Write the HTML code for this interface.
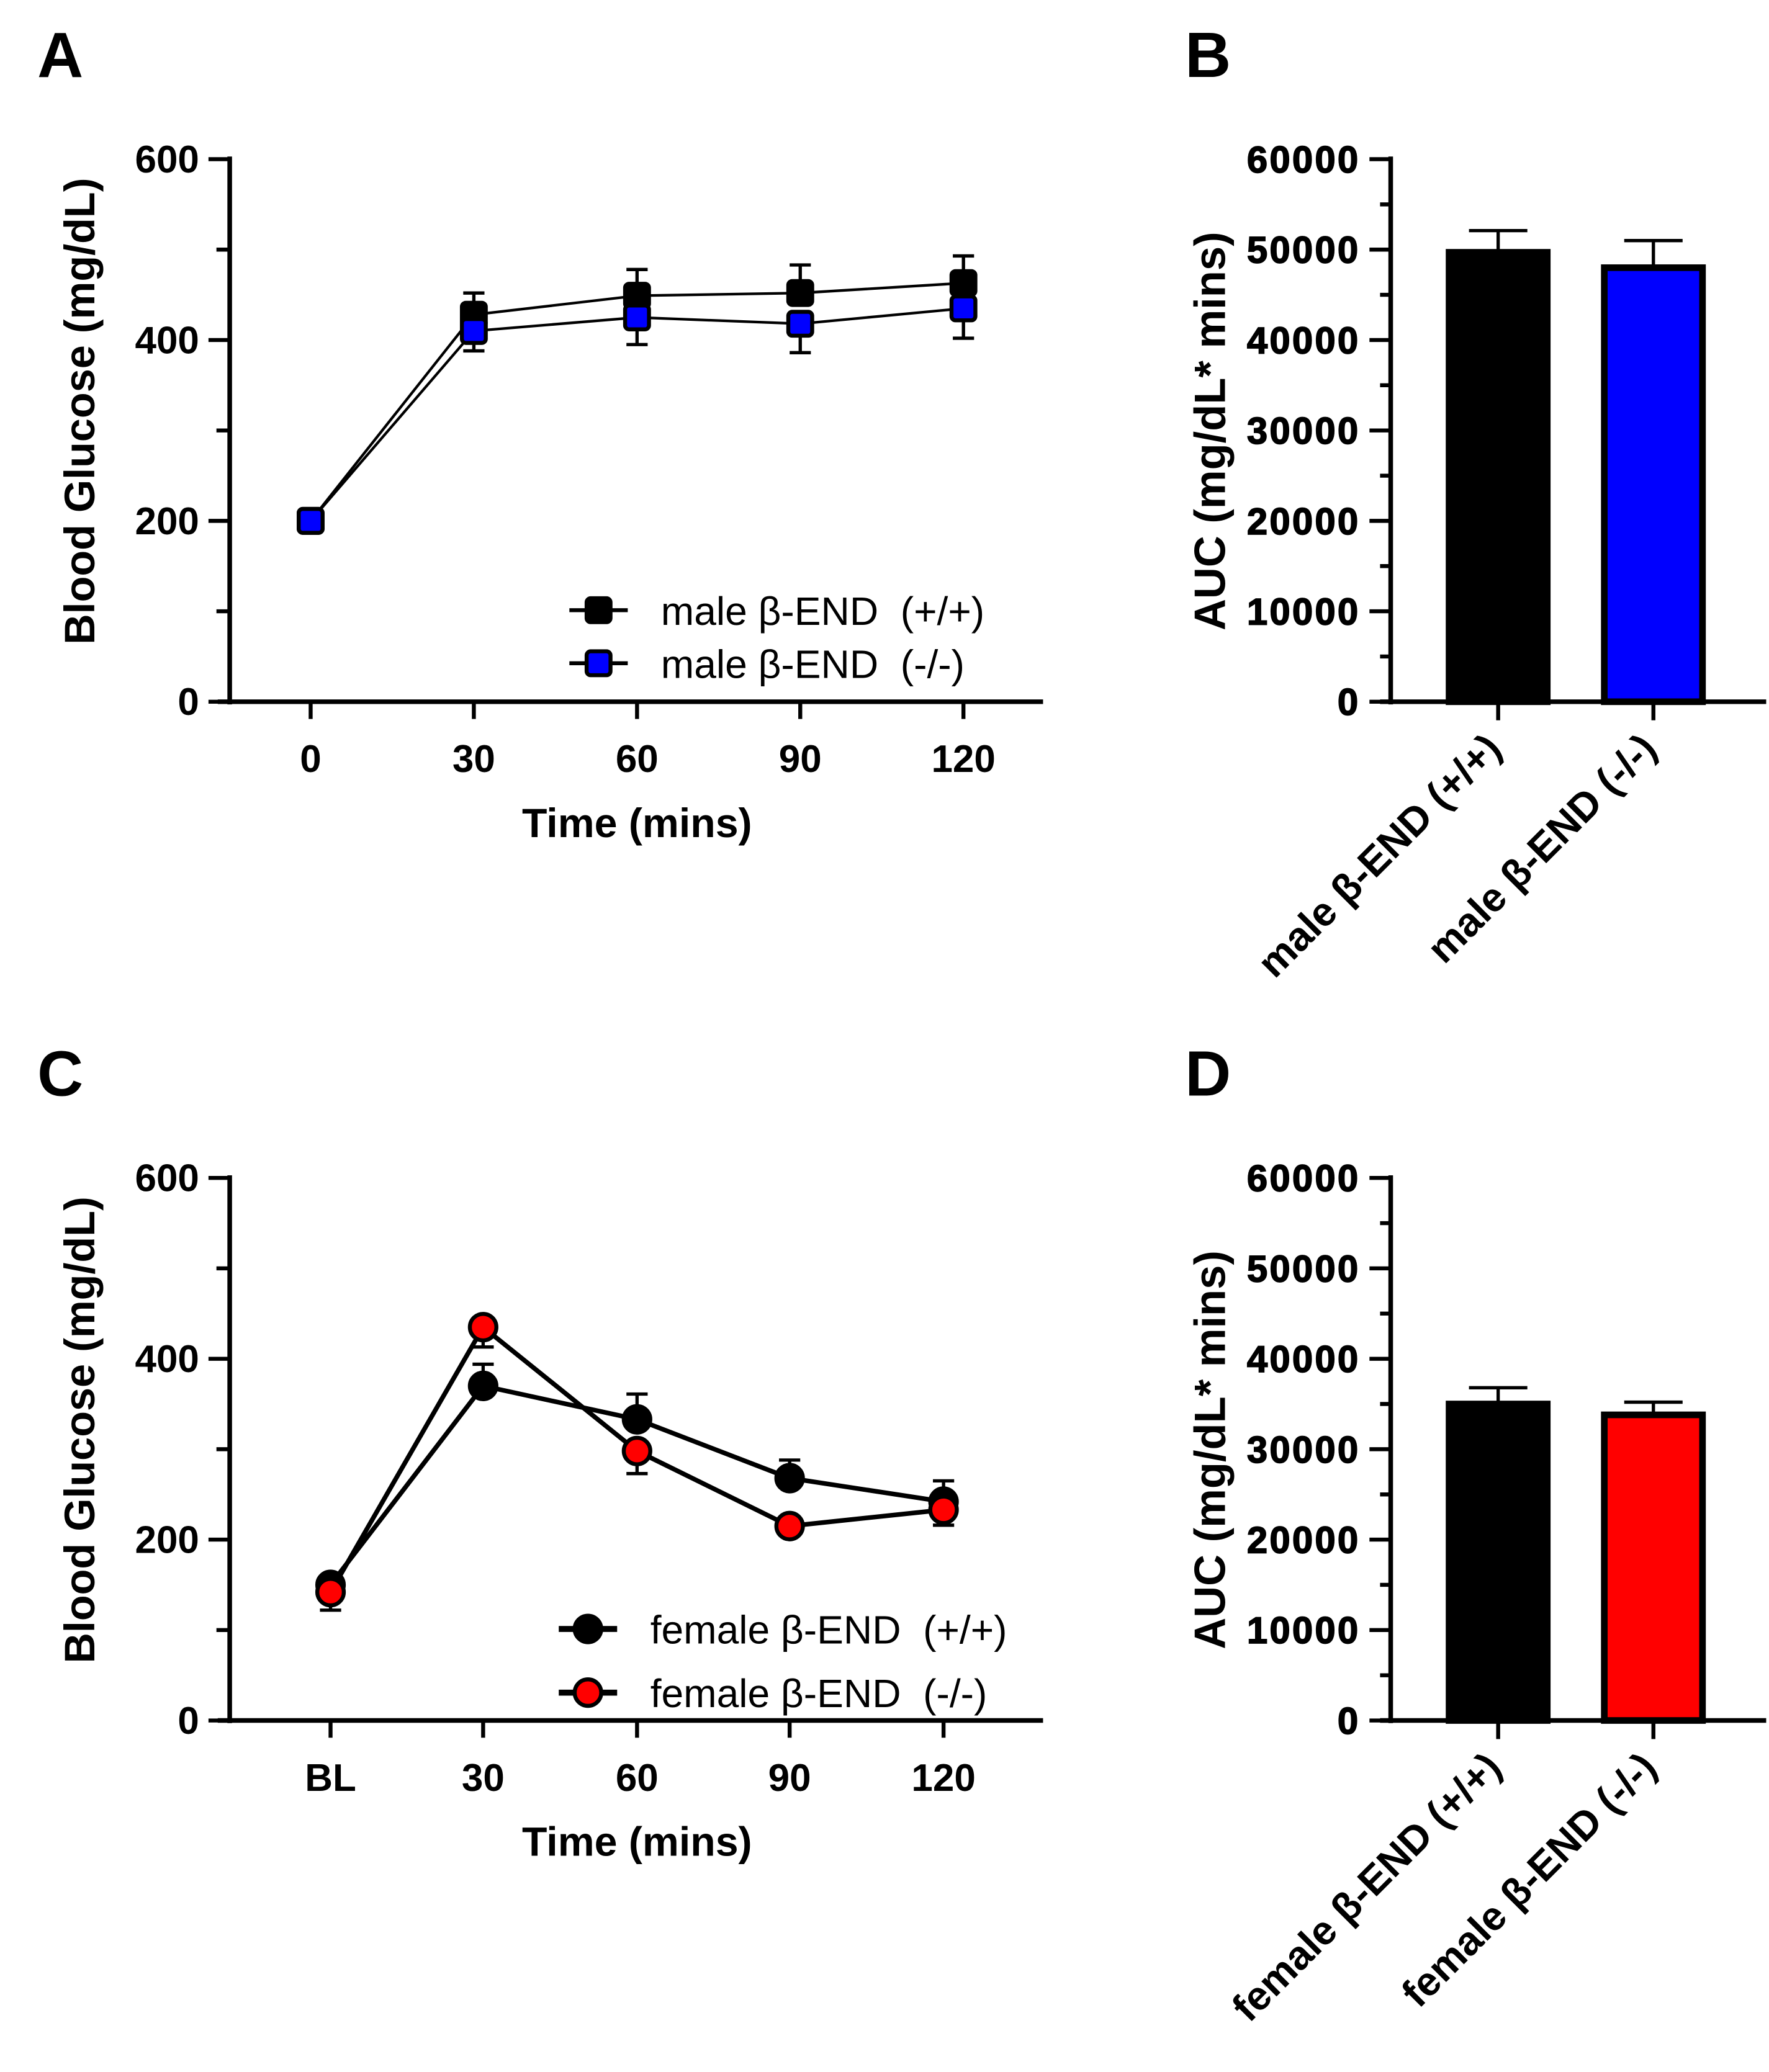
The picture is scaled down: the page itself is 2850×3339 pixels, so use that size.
<!DOCTYPE html>
<html><head><meta charset="utf-8"><style>
html,body{margin:0;padding:0;background:#fff}
svg{display:block}
text{font-family:"Liberation Sans",sans-serif}
.nar{font-family:"Liberation Sans Narrow","Liberation Sans",sans-serif;font-weight:bold}
.bold{font-weight:bold}
</style></head><body>
<svg id="fig" width="2850" height="3339" viewBox="0 0 1333 1562" xmlns="http://www.w3.org/2000/svg"></svg>
<script>
// Panel A data
const timesA = ["0","30","60","90","120"];
const maleWT = [200,428,449,452,463];
const maleWTerr = [0,24,29,31,30];
const maleKO = [200,410,425,418,435];
const maleKOerr = [0,22,30,32,33];
// Panel B data
const catsB = ["male β-END (+/+)","male β-END (-/-)"];
const aucB = [49700,48000];
const aucBerr = [2400,3000];
// Panel C data
const timesC = ["BL","30","60","90","120"];
const femWT = [150,370,333,268,242];
const femWTerr = [10,24,28,20,23];
const femKO = [142,435,298,215,233];
const femKOerr = [20,22,25,5,17];
// Panel D data
const catsD = ["female β-END (+/+)","female β-END (-/-)"];
const aucD = [35000,33800];
const aucDerr = [1800,1400];
const yTicksLine = [0,200,400,600];
const yTicksBar = [0,10000,20000,30000,40000,50000,60000];

const svg = document.getElementById('fig');
const NS = 'http://www.w3.org/2000/svg';
function mk(tag, attrs, parent){
  const e = document.createElementNS(NS, tag);
  for (const k in attrs) e.setAttribute(k, attrs[k]);
  (parent||svg).appendChild(e);
  return e;
}
function txt(s, attrs, name){
  const t = mk('text', attrs);
  t.textContent = s;
  
  
  return t;
}

function linePanel(oy, letter, cats, s1, e1, s2, e2, shape, c2, xs, names, eDir){
  const y = v => oy + 529 - v/600*409;
  const x = i => xs[i];
  txt(letter, {x:28, y:oy+58, 'font-size':48, class:'bold'}, 'panel-label-'+letter.toLowerCase());
  const ax = mk('line', {x1:173,y1:oy+118,x2:173,y2:oy+531,stroke:'#000','stroke-width':3.5});
   
  const xa = mk('line', {x1:164,y1:oy+529,x2:786,y2:oy+529,stroke:'#000','stroke-width':3.5});
   
  for (let v=0; v<=600; v+=100){
    const major = v%200===0;
    const tk = mk('line', {x1:major?157:163,y1:y(v),x2:173,y2:y(v),stroke:'#000','stroke-width':3});
     
  }
  yTicksLine.forEach(v=>{
    txt(String(v), {x:150,y:y(v)+10,'font-size':29,'text-anchor':'end',class:'nar'}, 'y-tick-label');
  });
  cats.forEach((c,i)=>{
    const tk = mk('line', {x1:x(i),y1:oy+529,x2:x(i),y2:oy+542,stroke:'#000','stroke-width':3});
     
    txt(c, {x:x(i),y:oy+582,'font-size':29,'text-anchor':'middle',class:'nar'}, 'x-tick-label');
  });
  txt('Time (mins)', {x:480,y:oy+631,'font-size':31,'text-anchor':'middle',class:'nar'}, 'x-axis-title');
  txt('Blood Glucose (mg/dL)', {x:0,y:0,'font-size':32,'text-anchor':'middle',class:'bold',transform:`translate(71,${oy+310}) rotate(-90)`}, 'y-axis-title');
  const lw = shape==='sq'?2:3.5;
  function series(vals, errs, fill, nm, dir){
    const pts = vals.map((v,i)=>x(i)+','+y(v)).join(' ');
    const pl = mk('polyline', {points:pts,fill:'none',stroke:'#000','stroke-width':lw});
     
    vals.forEach((v,i)=>{
      if (errs[i]>0){
        const ys = dir>0 ? y(v+errs[i]) : y(v-errs[i]);
        const eb = mk('path', {d:`M${x(i)},${y(v)}V${ys}M${x(i)-8},${ys}H${x(i)+8}`,stroke:'#000','stroke-width':2.5,fill:'none'});
         
      }
    });
    vals.forEach((v,i)=>{
      let m;
      if (shape==='sq') m = mk('rect',{x:x(i)-9,y:y(v)-9,width:18,height:18,rx:3,fill:fill,stroke:'#000','stroke-width':3});
      else m = mk('circle',{cx:x(i),cy:y(v),r:10,fill:fill,stroke:'#000','stroke-width':3});
       
    });
  }
  series(s1, e1, '#000', 'series-wt', 1);
  series(s2, e2, c2, 'series-ko', eDir);
  const ly = shape==='sq' ? [460,500] : [1228-768,1276-768];
  const lx = shape==='sq' ? 451 : 443;
  [['#000',names[0]],[c2,names[1]]].forEach((d,k)=>{
    const yy = oy+ly[k];
    const l = mk('line',{x1:lx-22,y1:yy,x2:lx+22,y2:yy,stroke:'#000','stroke-width':lw+1});
     
    let m;
    if (shape==='sq') m = mk('rect',{x:lx-9,y:yy-9,width:18,height:18,rx:3,fill:d[0],stroke:'#000','stroke-width':3});
    else m = mk('circle',{cx:lx,cy:yy,r:10,fill:d[0],stroke:'#000','stroke-width':3});
     
    txt(d[1], {x:lx+47,y:yy+11,'font-size':30}, 'legend-entry');
  });
}

function barPanel(oy, letter, cats, vals, errs, fill){
  const y = v => oy + 529 - v/60000*409;
  const xc = [1129,1246];
  txt(letter, {x:893,y:oy+58,'font-size':48,class:'bold'}, 'panel-label-'+letter.toLowerCase());
  const ax = mk('line', {x1:1048,y1:oy+118,x2:1048,y2:oy+531,stroke:'#000','stroke-width':3.5});
   
  const xa = mk('line', {x1:1040,y1:oy+529,x2:1331,y2:oy+529,stroke:'#000','stroke-width':3.5});
   
  for (let v=0; v<=60000; v+=5000){
    const major = v%10000===0;
    const tk = mk('line', {x1:major?1032:1040,y1:y(v),x2:1048,y2:y(v),stroke:'#000','stroke-width':3});
     
  }
  yTicksBar.forEach(v=>{
    txt(String(v), {x:1025,y:y(v)+10,'font-size':28,'text-anchor':'end',class:'bold','letter-spacing':'1.5',stroke:'#000','stroke-width':0.8}, 'y-tick-label');
  });
  txt('AUC (mg/dL* mins)', {x:0,y:0,'font-size':33,'text-anchor':'middle',class:'bold',transform:`translate(923,${oy+325}) rotate(-90)`}, 'y-axis-title');
  vals.forEach((v,i)=>{
    const eb = mk('path',{d:`M${xc[i]},${y(v)}V${y(v+errs[i])}M${xc[i]-22},${y(v+errs[i])}H${xc[i]+22}`,stroke:'#000','stroke-width':2.5,fill:'none'});
     
    const b = mk('rect',{x:xc[i]-37,y:y(v),width:74,height:y(0)-y(v),fill:i===0?'#000':fill,stroke:'#000','stroke-width':5});
     
    const tk = mk('line',{x1:xc[i],y1:oy+529,x2:xc[i],y2:oy+543,stroke:'#000','stroke-width':3});
     
    txt(cats[i], {x:0,y:0,'font-size':30.5,'text-anchor':'end',class:'bold',transform:`translate(${xc[i]+4},${oy+566}) rotate(-45)`}, 'x-tick-label');
  });
}

linePanel(0,'A',timesA,maleWT,maleWTerr,maleKO,maleKOerr,'sq','#0000ff',[234,357,480,603,726],['male β-END \u00a0(+/+)','male β-END \u00a0(-/-)'],-1);
barPanel(0,'B',catsB,aucB,aucBerr,'#0000ff');
linePanel(768,'C',timesC,femWT,femWTerr,femKO,femKOerr,'ci','#ff0000',[249,364,480,595,711],['female β-END \u00a0(+/+)','female β-END \u00a0(-/-)'],-1);
barPanel(768,'D',catsD,aucD,aucDerr,'#ff0000');
</script>
</body></html>
